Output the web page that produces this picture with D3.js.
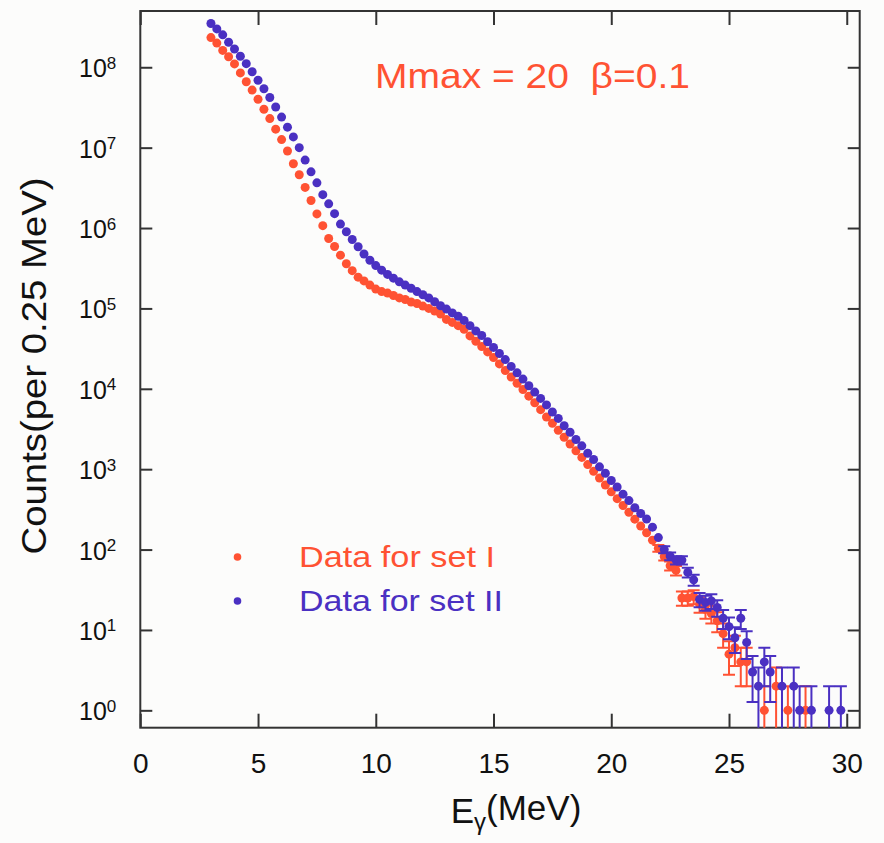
<!DOCTYPE html>
<html>
<head>
<meta charset="utf-8">
<script src="https://cdn.jsdelivr.net/npm/d3@7/dist/d3.min.js"></script>
<style>
  body { margin: 0; background: #fcfcfb; }
  svg { display: block; font-family: "Liberation Sans", Arial, sans-serif; }
</style>
</head>
<body>
<div id="chart"></div>
<script>
// bins of 0.25 MeV, first bin centre at 3 MeV
var energies = d3.range(108).map(function(i) { return 3 + 0.25 * i; });

var countsSet1 = [
  2.34e8, 2.0e8, 1.62e8, 1.35e8, 1.10e8, 8.5e7, 6.6e7, 5.2e7, 4.0e7, 3.0e7,
  2.3e7, 1.7e7, 1.26e7, 9.1e6, 6.3e6, 4.6e6, 3.2e6, 2.2e6, 1.5e6, 1.07e6,
  7.4e5, 5.9e5, 4.6e5, 3.6e5, 2.95e5, 2.45e5, 2.2e5, 1.95e5, 1.74e5, 1.62e5,
  1.55e5, 1.45e5, 1.35e5, 1.29e5, 1.2e5, 1.15e5, 1.07e5, 1.0e5, 9.3e4, 8.5e4,
  7.3e4, 6.7e4, 6.1e4, 5.5e4, 4.55e4, 3.9e4, 3.35e4, 2.88e4, 2.45e4, 2.04e4,
  1.69e4, 1.4e4, 1.17e4, 9800, 8100, 6700, 5500, 4460, 3720, 3040,
  2500, 2060, 1690, 1400, 1140, 940, 775, 636, 523, 430,
  353, 291, 239, 196, 162, 131, 104, 82, 63, 55,
  25, 25, 26, 21, 18, 16, 13, 9, 5, 6,
  4, 4, null, null, 1, null, 2, null, 1, null,
  null, 1, null, null, null, null, null, null
];

var countsSet2 = [
  3.5e8, 3.0e8, 2.53e8, 2.05e8, 1.69e8, 1.37e8, 1.11e8, 8.8e7, 6.9e7, 5.4e7,
  4.2e7, 3.2e7, 2.4e7, 1.8e7, 1.36e7, 1.0e7, 7.0e6, 5.0e6, 3.65e6, 2.6e6,
  2.0e6, 1.51e6, 1.12e6, 9.0e5, 7.2e5, 5.85e5, 4.75e5, 3.98e5, 3.41e5, 2.99e5,
  2.65e5, 2.38e5, 2.14e5, 1.95e5, 1.78e5, 1.62e5, 1.48e5, 1.35e5, 1.21e5, 1.08e5,
  9.8e4, 8.8e4, 8.0e4, 7.1e4, 6.1e4, 5.25e4, 4.6e4, 3.85e4, 3.27e4, 2.75e4,
  2.31e4, 1.9e4, 1.58e4, 1.32e4, 1.09e4, 9100, 7600, 6300, 5140, 4280,
  3470, 2880, 2340, 1950, 1580, 1320, 1070, 890, 723, 601,
  489, 407, 331, 281, 240, 190, 141, 100, 83, 74,
  74, 52, 42, 24, 22, 23, 19, 14, 11, 8,
  14, 7, 3, 2, 4, 3, null, 2, null, 2,
  1, null, 1, null, null, 1, null, 1
];

var seriesNames = ["Data for set I", "Data for set II"];
var seriesColors = ["#ff5233", "#4a30c2"];
var xTicks = [0, 5, 10, 15, 20, 25, 30];
var yExponents = [0, 1, 2, 3, 4, 5, 6, 7, 8];

var margin = {top: 11, right: 24.3, bottom: 115.3, left: 140.3},
    width = 884 - margin.left - margin.right,
    height = 843 - margin.top - margin.bottom;

var x = d3.scaleLinear().domain([0, 30.55]).range([0, width]);
var y = d3.scaleLog().domain([Math.pow(10, -0.216), Math.pow(10, 8.70)]).range([height, 0]);

var svg = d3.select("#chart").append("svg")
    .attr("width", 884)
    .attr("height", 843);

var g = svg.append("g")
    .attr("transform", "translate(" + margin.left + "," + margin.top + ")");

g.append("clipPath").attr("id", "plotClip")
  .append("rect").attr("width", width).attr("height", height);

// axes, ticks pointing inward on all four sides
var xb = g.append("g")
    .attr("transform", "translate(0," + height + ")")
    .call(d3.axisBottom(x).tickValues(xTicks).tickSize(-14).tickSizeOuter(0).tickPadding(25));
var xt = g.append("g")
    .call(d3.axisTop(x).tickValues(xTicks).tickSize(-14).tickSizeOuter(0).tickFormat(""));
var yl = g.append("g")
    .call(d3.axisLeft(y).tickValues(yExponents.map(function(p) { return Math.pow(10, p); }))
      .tickSize(-12).tickSizeOuter(0).tickPadding(24).tickFormat(""));
var yr = g.append("g")
    .attr("transform", "translate(" + width + ",0)")
    .call(d3.axisRight(y).tickValues(yExponents.map(function(p) { return Math.pow(10, p); }))
      .tickSize(-12).tickSizeOuter(0).tickFormat(""));

[xb, xt, yl, yr].forEach(function(a) {
  a.select(".domain").remove();
  a.selectAll(".tick line").attr("stroke", "#333").attr("stroke-width", 2);
});

xb.selectAll(".tick text")
    .attr("fill", "#111")
    .style("font-size", "28px");

yl.selectAll(".tick text")
    .attr("fill", "#111")
    .attr("dy", "0.38em")
    .style("font-size", "25px")
    .each(function(d, i) {
      var t = d3.select(this);
      t.append("tspan").text("10");
      t.append("tspan").attr("dy", "-0.5em").style("font-size", "17px").text(yExponents[i]);
    });

g.append("rect")
    .attr("width", width)
    .attr("height", height)
    .attr("fill", "none")
    .attr("stroke", "#333")
    .attr("stroke-width", 2);

// data with poisson error bars
var plot = g.append("g").attr("clip-path", "url(#plotClip)");

[countsSet1, countsSet2].forEach(function(counts, s) {
  var pts = [];
  counts.forEach(function(c, i) {
    if (c !== null) pts.push({e: energies[i], c: c, err: Math.sqrt(c)});
  });
  var layer = plot.append("g")
      .attr("stroke", seriesColors[s])
      .attr("fill", seriesColors[s]);

  // only bars that reach out of the dot get drawn
  var eb = layer.selectAll(".err")
      .data(pts.filter(function(d) { return y(d.c) - y(d.c + d.err) > 3; }))
    .enter().append("g")
      .attr("class", "err")
      .attr("stroke-width", 2);
  eb.append("line")
      .attr("x1", function(d) { return x(d.e); })
      .attr("x2", function(d) { return x(d.e); })
      .attr("y1", function(d) { return y(d.c + d.err); })
      .attr("y2", function(d) { return d.c - d.err > 0 ? y(d.c - d.err) : height + 5; });
  eb.append("line")
      .attr("x1", function(d) { return x(d.e) - 6; })
      .attr("x2", function(d) { return x(d.e) + 6; })
      .attr("y1", function(d) { return y(d.c + d.err); })
      .attr("y2", function(d) { return y(d.c + d.err); });
  eb.filter(function(d) { return d.c - d.err > 0; }).append("line")
      .attr("x1", function(d) { return x(d.e) - 6; })
      .attr("x2", function(d) { return x(d.e) + 6; })
      .attr("y1", function(d) { return y(d.c - d.err); })
      .attr("y2", function(d) { return y(d.c - d.err); });

  layer.selectAll("circle")
      .data(pts)
    .enter().append("circle")
      .attr("stroke", "none")
      .attr("cx", function(d) { return x(d.e); })
      .attr("cy", function(d) { return y(d.c); })
      .attr("r", 4.5);
});

// annotation
svg.append("text")
    .attr("x", 375)
    .attr("y", 88)
    .attr("fill", seriesColors[0])
    .style("font-size", "35px")
    .style("white-space", "pre")
    .attr("textLength", 315)
    .attr("lengthAdjust", "spacingAndGlyphs")
    .text("Mmax = 20  \u03b2=0.1");

// legend
var legend = svg.selectAll(".legend")
    .data(seriesNames)
  .enter().append("g")
    .attr("class", "legend")
    .attr("transform", function(d, i) { return "translate(0," + (i * 44) + ")"; });
legend.append("circle")
    .attr("cx", 237.5)
    .attr("cy", 557)
    .attr("r", 3.8)
    .attr("fill", function(d, i) { return seriesColors[i]; });
legend.append("text")
    .attr("x", 299)
    .attr("y", 567)
    .attr("fill", function(d, i) { return seriesColors[i]; })
    .style("font-size", "30px")
    .attr("textLength", function(d, i) { return i ? 204 : 196; })
    .attr("lengthAdjust", "spacingAndGlyphs")
    .text(function(d) { return d; });

// axis titles
var xTitle = svg.append("text")
    .attr("x", 516)
    .attr("y", 823)
    .attr("text-anchor", "middle")
    .attr("fill", "#111")
    .style("font-size", "35px");
xTitle.append("tspan").text("E");
xTitle.append("tspan").attr("dy", "0.3em").style("font-size", "24px").text("\u03b3");
xTitle.append("tspan").attr("dy", "-0.3em").text("(MeV)");

svg.append("text")
    .attr("transform", "translate(46,366) rotate(-90)")
    .attr("text-anchor", "middle")
    .attr("fill", "#111")
    .style("font-size", "35px")
    .attr("textLength", 377)
    .attr("lengthAdjust", "spacingAndGlyphs")
    .text("Counts(per 0.25 MeV)");
</script>
</body>
</html>
